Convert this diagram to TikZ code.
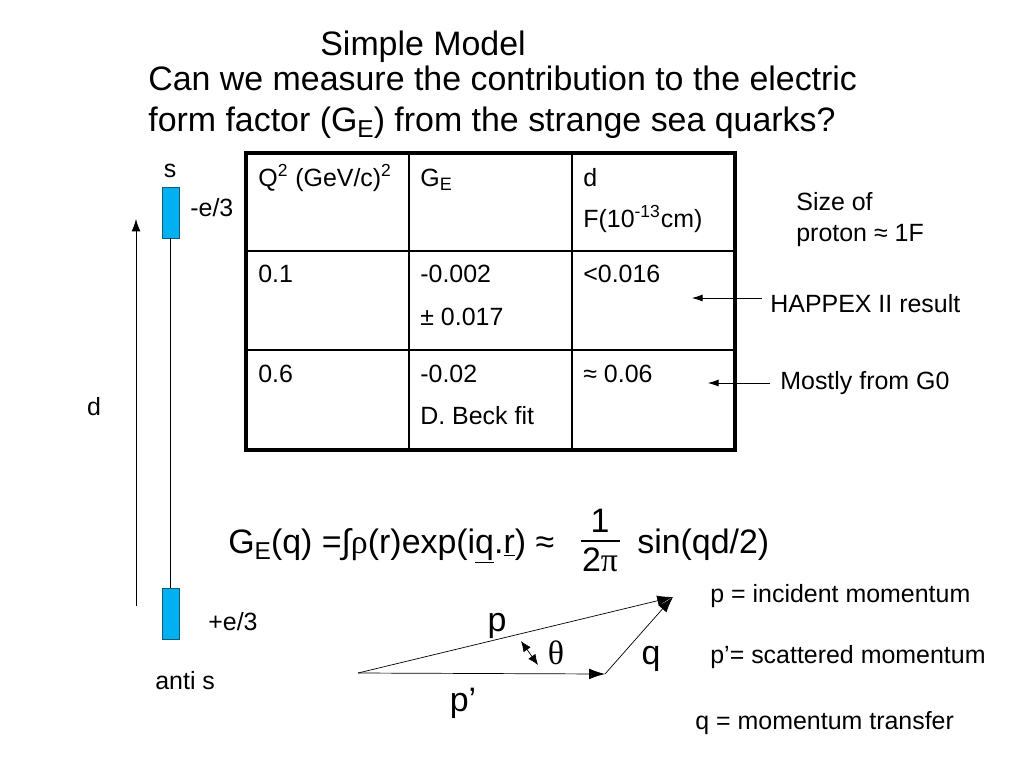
\documentclass[tikz,border=0pt]{standalone}
\usepackage{fontspec}
\usepackage{graphicx}
\setmainfont{Liberation Sans}
\newfontfamily\greekfont{Liberation Serif}
\usetikzlibrary{arrows.meta}

\definecolor{quarkblue}{RGB}{0,176,240}
\definecolor{quarkedge}{RGB}{20,90,120}

% lowered subscript as on the slide
\newcommand{\lowsub}[1]{\raisebox{-0.2em}{\scalebox{0.72}{#1}}}

\tikzset{
  big/.style={font=\fontsize{19.3}{22}\selectfont, inner sep=0pt},
  small/.style={font=\fontsize{14.2}{17}\selectfont, inner sep=0pt},
  quark/.style={draw=quarkedge, fill=quarkblue, minimum width=17*0.02cm, minimum height=51*0.02cm, inner sep=0pt},
  vec/.style={-{Latex[length=9pt,width=6pt]}, thin},
}

\begin{document}
\begin{tikzpicture}[x=0.02cm,y=-0.02cm]
                \useasboundingbox (0,0) rectangle (1024,768);

                % Title
                \node[big, anchor=base west] (title) at (320,55) {Simple Model};
                \node[big, anchor=base west] (line1) at (148,90) {Can we measure the contribution to the electric};
                \node[big, anchor=base west] (line2) at (148,131) {form factor (G\lowsub{E}) from the strange sea quarks?};

                % Quark pair
                \node[quark] (s) at (170.5,212.5) {};
                \node[quark] (sbar) at (170.5,614) {};
                \draw (s) -- (sbar);
                \node[small, anchor=base] (slabel) at (170,177) {s};
                \node[small, anchor=base west] (scharge) at (190,216) {-e/3};
                \node[small, anchor=base west] (sbarcharge) at (208,630) {+e/3};
                \node[small, anchor=base west] (sbarlabel) at (155,689) {anti s};

                % Separation
                \coordinate (dlow) at (136,606);
                \coordinate (dhigh) at (136,219);
                \draw[-{Latex[length=7pt,width=5pt]}, thin] (dlow) -- (dhigh);
                \node[small, anchor=base] (dlabel) at (94,415) {d};

                % Table
                \draw[line width=1.8pt] (246,153) rectangle (735,450);
                \draw[line width=0.8pt] (409,153) -- (409,450);
                \draw[line width=0.8pt] (572,153) -- (572,450);
                \draw[line width=0.8pt] (246,251) -- (735,251);
                \draw[line width=0.8pt] (246,350) -- (735,350);

                \node[small, anchor=base west] (qhead) at (258,186) {Q\textsuperscript{2} (GeV/c)\textsuperscript{2}};
                \node[small, anchor=base west] (gehead) at (420,186) {G\lowsub{E}};
                \node[small, anchor=base west] (dhead) at (583,186) {d};
                \node[small, anchor=base west] (dunit) at (583,227) {F(10\textsuperscript{-13}cm)};

                \node[small, anchor=base west] (qa) at (258,282) {0.1};
                \node[small, anchor=base west] (gea) at (420,282) {-0.002};
                \node[small, anchor=base west] (gea2) at (420,325) {± 0.017};
                \node[small, anchor=base west] (da) at (583,282) {<0.016};

                \node[small, anchor=base west] (qb) at (258,382) {0.6};
                \node[small, anchor=base west] (geb) at (420,382) {-0.02};
                \node[small, anchor=base west] (geb2) at (420,424) {D. Beck fit};
                \node[small, anchor=base west] (db) at (583,382) {≈ 0.06};

                % Notes on the right
                \node[small, anchor=base west] (size1) at (796,210) {Size of};
                \node[small, anchor=base west] (size2) at (796,241) {proton ≈ 1F};
                \node[small, anchor=base west] (happex) at (770,312) {HAPPEX II result};
                \node[small, anchor=base west] (gzero) at (780,389) {Mostly from G0};
                \coordinate (happextip) at (692,298);
                \coordinate (gzerotip) at (708,383);
                \draw[-{Latex[length=6pt,width=4pt]}, thin] (762,298) -- (happextip);
                \draw[-{Latex[length=6pt,width=4pt]}, thin] (770,383) -- (gzerotip);

                % Form factor
                \node[big, anchor=base west] (formula) at (228,553)
                  {G\lowsub{E}(q) =∫{\greekfont ρ}(r)exp(i\underline{q}.\underline{r}) ≈};
                \node[big, anchor=base] (num) at (600,532) {1};
                \node[big, anchor=base] (den) at (600,571) {2{\greekfont π}};
                \draw[line width=0.9pt] (581,541) -- (620,541);
                \node[big, anchor=base west] (sine) at (637,553) {sin(qd/2)};

                % Momentum triangle
                \coordinate (o) at (358,673);
                \coordinate (ptip) at (673,597);
                \coordinate (pptip) at (605,674);
                \draw[vec] (o) -- (ptip);
                \draw[vec] (o) -- (pptip);
                \draw[vec] (pptip) -- (ptip);
                \draw[{Latex[length=6pt,width=5pt]}-{Latex[length=6pt,width=5pt]}, thin] (521,641) -- (538,665);
                \node[big, anchor=base] (plabel) at (497,631) {p};
                \node[big, anchor=base] (pplabel) at (463,711) {p’};
                \node[big, anchor=base] (qlabel) at (651,664) {q};
                \node[big, anchor=base] (thlabel) at (556,664) {\greekfont θ};

                \node[small, anchor=base west] (pdesc) at (710,602) {p = incident momentum};
                \node[small, anchor=base west] (ppdesc) at (710,663) {p’= scattered momentum};
                \node[small, anchor=base west] (qdesc) at (695,729) {q = momentum transfer};
            \end{tikzpicture}
\end{document}
